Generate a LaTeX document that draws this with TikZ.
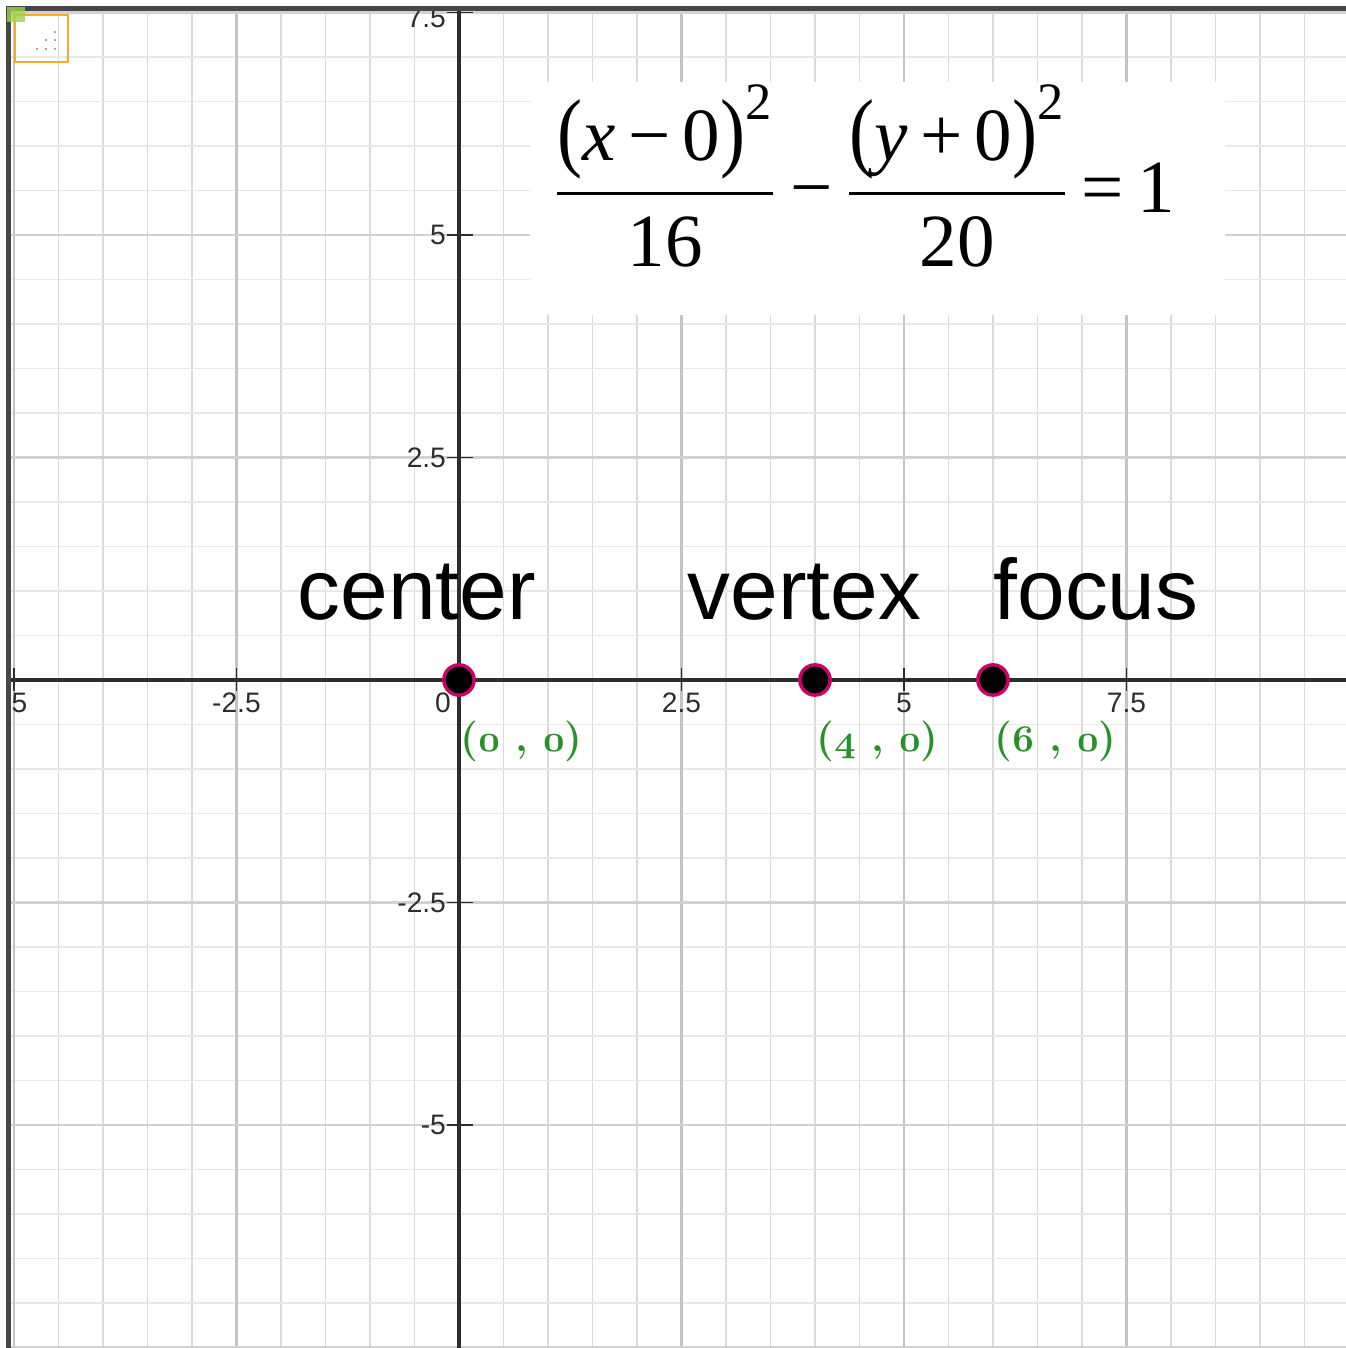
\documentclass[tikz,border=0pt]{standalone}
\usepackage{fontspec}
\usepackage{amsmath}
\newfontfamily\arial{Liberation Sans}
\newfontfamily\tnr{Liberation Serif}
\newcommand{\osn}[1]{{\usefont{OML}{cmm}{b}{it}#1}}
\newcommand{\tn}[1]{\text{\tnr #1}}
\newcommand{\tallp}[1]{\scalebox{1}[1.17]{#1}}
\definecolor{ptring}{RGB}{205,0,105}
\definecolor{labgreen}{RGB}{40,145,40}
\definecolor{axisgray}{RGB}{45,45,45}
\definecolor{bordergray}{RGB}{70,70,70}
\definecolor{gridv}{RGB}{218,218,218}
\definecolor{gridh}{RGB}{232,232,232}
\definecolor{gridmajv}{RGB}{196,196,196}
\definecolor{gridmajh}{RGB}{210,210,210}
\definecolor{griporange}{RGB}{250,170,40}
\definecolor{cornergreen}{RGB}{160,210,80}

\tikzset{
  gridvline/.style={draw=gridv, line width=0.6pt},
  gridhline/.style={draw=gridh, line width=0.6pt},
  gridmajvline/.style={draw=gridmajv, line width=0.7pt},
  gridmajhline/.style={draw=gridmajh, line width=0.7pt},
  axisline/.style={draw=axisgray, line width=1.15pt},
  tickline/.style={draw=axisgray, line width=0.6pt},
  ticklabel/.style={font=\arial\fontsize{9}{10}\selectfont, text=axisgray, inner sep=0pt},
  pointdot/.style={circle, fill=black, draw=ptring, line width=1.1pt, minimum size=0.34cm, inner sep=0pt},
  ptlabel/.style={text=labgreen, font=\bfseries\fontsize{13}{15}\selectfont, anchor=west, inner sep=0pt},
  bigword/.style={font=\arial\fontsize{27.4}{30}\selectfont, anchor=base west, inner sep=0pt},
}

\begin{document}
\begin{tikzpicture}

\useasboundingbox (-5.157,-7.506) rectangle (9.966,7.640);

\begin{scope}
\clip (-5.056,-7.506) rectangle (9.966,7.539);

% grid
\foreach \x in {-5,-4.5,...,9.5}
    \draw[gridvline] (\x,-7.6) -- (\x,7.7);
\foreach \y in {-7.5,-7,...,7.5}
    \draw[gridhline] (-5.2,\y) -- (10,\y);
\foreach \x in {-5,-2.5,...,7.5}
    \draw[gridmajvline] (\x,-7.6) -- (\x,7.7);
\foreach \y in {-7.5,-5,...,7.5}
    \draw[gridmajhline] (-5.2,\y) -- (10,\y);

% formula box
\fill[white] (0.798,4.101) rectangle (8.607,6.719);

% axes
\draw[axisline] (-5.2,0) -- (10,0);
\draw[axisline] (0,-7.6) -- (0,7.7);

\foreach \t in {-5,-2.5,2.5,5,7.5} {
    \draw[tickline] (\t,-0.12) -- (\t,0.14);
    \draw[tickline] (-0.135,\t) -- (0.16,\t);
}

\node[ticklabel, anchor=east] (xm5) at (-4.843,-0.26) {-5};
\node[ticklabel] (xm25) at (-2.5,-0.26) {-2.5};
\node[ticklabel] (x0) at (-0.18,-0.26) {0};
\node[ticklabel] (x25) at (2.5,-0.26) {2.5};
\node[ticklabel] (x5) at (5,-0.26) {5};
\node[ticklabel] (x75) at (7.5,-0.26) {7.5};

\node[ticklabel, anchor=east] (y75) at (-0.14,7.44) {7.5};
\node[ticklabel, anchor=east] (y5) at (-0.14,5) {5};
\node[ticklabel, anchor=east] (y25) at (-0.14,2.5) {2.5};
\node[ticklabel, anchor=east] (ym25) at (-0.14,-2.5) {-2.5};
\node[ticklabel, anchor=east] (ym5) at (-0.14,-5) {-5};

% equation
\node[inner sep=0pt, anchor=base west, font=\tnr\fontsize{24}{28}\selectfont] (eqn) at (1.056,5.25)
  {$\dfrac{\tn{\tallp{(}\textit{x}\,−\,0\tallp{)}}^{\tn{2}}}{\tn{16}}\,\tn{−}\,\dfrac{\tn{\tallp{(}\textit{y}\,+\,0\tallp{)}}^{\tn{2}}}{\tn{20}}\,\tn{=}\,\tn{1}$};

% points
\node[pointdot] (center) at (0,0) {};
\node[pointdot] (vertex) at (4,0) {};
\node[pointdot] (focus) at (6,0) {};

\node[bigword] (centerlab) at (-1.82,0.674) {center};
\node[bigword] (vertexlab) at (2.562,0.674) {vertex};
\node[bigword] (focuslab) at (6.0,0.674) {focus};

\node[ptlabel] (centerxy) at (0.01,-0.69) {(\osn{0} , \osn{0})};
\node[ptlabel] (vertexxy) at (4.01,-0.69) {(\osn{4} , \osn{0})};
\node[ptlabel] (focusxy) at (6.01,-0.69) {(\osn{6} , \osn{0})};

% resize grip
\draw[griporange, line width=0.7pt] (-4.99,6.944) rectangle (-4.393,7.472);
\foreach \p in {(-4.54,7.28),(-4.64,7.19),(-4.54,7.19),(-4.74,7.09),(-4.64,7.09),(-4.54,7.09)}
    \fill[gray] \p circle (0.012);
\end{scope}

% frame
\draw[bordergray, line width=1.6pt] (-5.056,-7.6) -- (-5.056,7.539) -- (10,7.539);
\fill[cornergreen, opacity=0.8] (-5.08,7.56) rectangle (-4.88,7.39);

\end{tikzpicture}
\end{document}
